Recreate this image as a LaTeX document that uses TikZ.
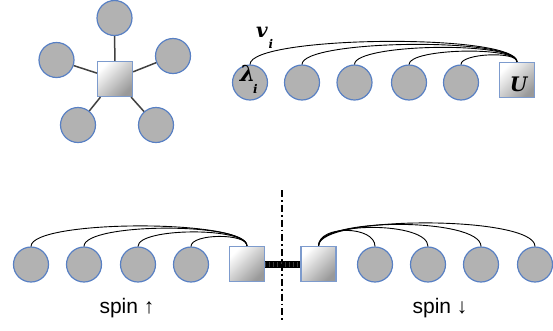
\documentclass[tikz,border=0pt]{standalone}
\usepackage{fontspec}
\setmainfont{DejaVu Serif}
\newfontfamily\lsans{Liberation Sans}
\definecolor{ballgray}{RGB}{178,178,178}
\definecolor{ballblue}{RGB}{88,128,196}
\definecolor{sqblue}{RGB}{125,155,205}
\definecolor{linkgray}{RGB}{64,64,64}
\begin{document}
\begin{tikzpicture}[x=1pt,y=-1pt,
  ball/.style={circle, draw=ballblue, fill=ballgray, line width=1.2pt, minimum size=35pt, inner sep=0pt},
  sq/.style={rectangle, draw=sqblue, line width=1.2pt, minimum size=35pt, inner sep=0pt,
    shading=axis, top color=white, middle color=gray!22, bottom color=gray!80, shading angle=45},
  spoke/.style={draw=linkgray, line width=1.5pt},
  arc/.style={draw=black, line width=0.9pt},
  spinlbl/.style={font=\lsans\fontsize{21}{24}\selectfont, inner sep=0pt},
  math/.style={inner sep=0pt, font=\bfseries\itshape},
]
\useasboundingbox (0,0) rectangle (553,330);

% star
\node[sq] (s0) at (115,79) {};
\node[ball] (s1) at (114.5,18) {};
\node[ball] (s2) at (56.5,60) {};
\node[ball] (s3) at (173,56) {};
\node[ball] (s4) at (78,125) {};
\node[ball] (s5) at (156,125) {};
\foreach \i in {1,...,5} \draw[spoke] (s0) -- (s\i);

% top-right chain
\node[ball] (r1) at (250,82.5) {};
\node[ball] (r2) at (302,82.5) {};
\node[ball] (r3) at (354.5,82.5) {};
\node[ball] (r4) at (409,82.5) {};
\node[ball] (r5) at (461,82.5) {};
\node[sq] (U) at (517,80) {};
\node[math] (Ulbl) at (518.5,84.5) {\fontsize{20}{20}\selectfont U};
\node[math] (lam) at (247.5,73) {\fontsize{22}{22}\selectfont λ};
\node[math] (lami) at (255.5,89) {\fontsize{12}{12}\selectfont i};
\node[math] (vv) at (262,32) {\fontsize{20}{20}\selectfont v};
\node[math] (vi) at (271,43.5) {\fontsize{12}{12}\selectfont i};
\draw[arc] (r1.north) .. controls +(0,-29) and +(0,-29) .. (U.north);
\draw[arc] (r2.north) .. controls +(0,-25) and +(0,-25) .. (U.north);
\draw[arc] (r3.north) .. controls +(0,-21) and +(0,-21) .. (U.north);
\draw[arc] (r4.north) .. controls +(0,-16) and +(0,-16) .. (U.north);
\draw[arc] (r5.north) .. controls +(0,-11) and +(0,-11) .. (U.north);

% bottom
\node[ball] (a1) at (31,264.5) {};
\node[ball] (a2) at (84,264.5) {};
\node[ball] (a3) at (138,264.5) {};
\node[ball] (a4) at (191,264.5) {};
\node[sq] (L) at (247,264) {};
\node[sq] (R) at (318.5,264) {};
\node[ball] (b1) at (375,264.5) {};
\node[ball] (b2) at (428,264.5) {};
\node[ball] (b3) at (481,264.5) {};
\node[ball] (b4) at (535,264.5) {};
\draw[arc] (a1.north) .. controls +(0,-27) and +(0,-27) .. (L.north);
\draw[arc] (a2.north) .. controls +(0,-24) and +(0,-24) .. (L.north);
\draw[arc] (a3.north) .. controls +(0,-19) and +(0,-19) .. (L.north);
\draw[arc] (a4.north) .. controls +(0,-13) and +(0,-13) .. (L.north);
\draw[arc] (R.north) .. controls +(0,-21) and +(0,-21) .. (b1.north);
\draw[arc] (R.north) .. controls +(0,-25) and +(0,-25) .. (b2.north);
\draw[arc] (R.north) .. controls +(0,-29) and +(0,-29) .. (b3.north);
\draw[arc] (R.north) .. controls +(0,-31) and +(0,-31) .. (b4.north);

% coupling and divider
\draw[line width=7pt, black] (L.east) -- (R.west);
\draw[line width=5pt, gray!45!black, dash pattern=on 0.6pt off 3.4pt] (L.east) -- (R.west);
\coordinate (d1) at (282,190);
\coordinate (d2) at (282,323);
\draw[line width=2.8pt, black, dash pattern=on 7pt off 3pt on 1.8pt off 3pt] (d1) -- (d2);

\node[spinlbl] (up) at (127,308) {spin ↑};
\node[spinlbl] (dn) at (440,308) {spin ↓};
\end{tikzpicture}
\end{document}
